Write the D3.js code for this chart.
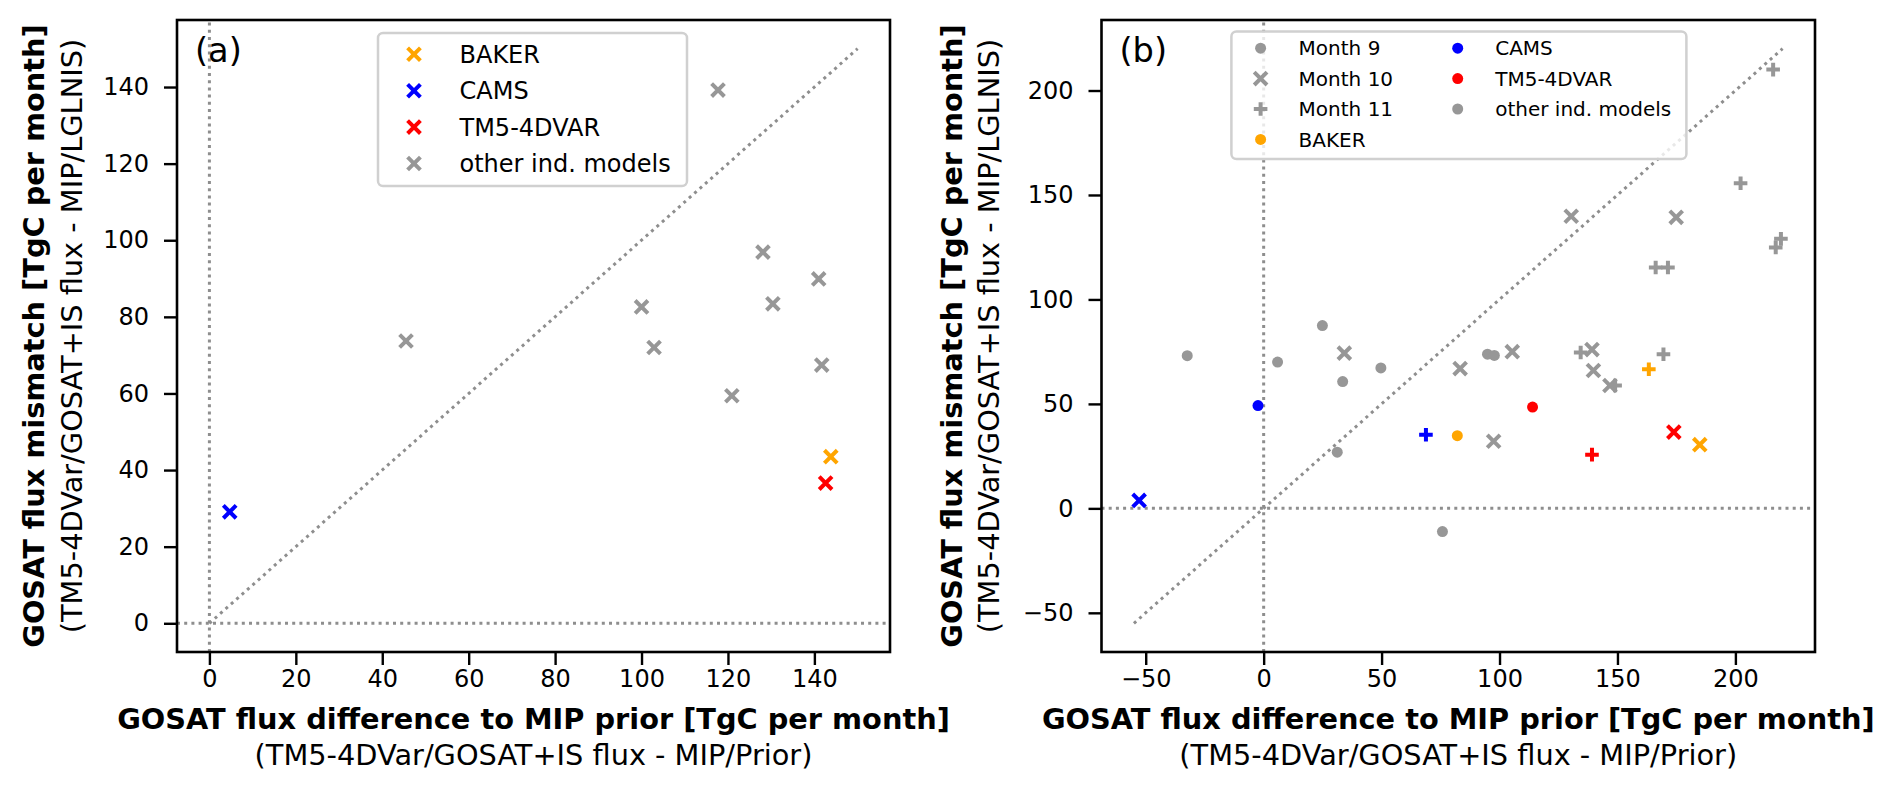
<!DOCTYPE html>
<html>
<head>
<meta charset="utf-8">
<script src="https://cdn.jsdelivr.net/npm/d3@7"></script>
<style>
  body { margin: 0; background: #fff; }
  text { font-family: "DejaVu Sans", sans-serif; fill: #000; }
</style>
</head>
<body>
<div id="chart"></div>
<script>
// ---- panel (a): one value per model ----
const modelsA = ["BAKER", "CAMS", "TM5-4DVAR",
  "other", "other", "other", "other", "other", "other", "other", "other", "other"];
const fluxDiffA = [143.8, 4.7, 142.6, 45.5, 100.0, 102.9, 117.7, 128.1, 130.4, 120.9, 141.0, 141.7];
const mismatchA = [43.5, 29.1, 36.6, 73.7, 82.6, 72.0, 139.2, 96.9, 83.4, 59.4, 89.9, 67.4];

// ---- panel (b): per month ----
const modelsB = ["BAKER", "CAMS", "TM5-4DVAR",
  "other", "other", "other", "other", "other", "other", "other", "other", "other"];
const sepDiff = [82.1, -2.4, 114.0, -32.4, 5.9, 24.9, 33.5, 49.7, 94.9, 97.8, 31.2, 75.8];
const sepMis  = [34.8, 49.2, 48.5, 73.1, 70.0, 87.5, 60.7, 67.2, 73.8, 73.2, 26.9, -11.1];
const octDiff = [184.9, -52.8, 173.9, 34.2, 105.4, 83.3, 130.4, 174.9, 139.2, 139.8, 146.8, 97.5];
const octMis  = [30.5, 3.8, 36.5, 74.3, 75.0, 66.9, 139.8, 139.3, 76.0, 66.0, 58.8, 32.1];
const novDiff = [163.3, 68.8, 139.2, 216.0, 202.2, 219.3, 217.1, 166.2, 171.4, 134.4, 169.5, 149.0];
const novMis  = [66.6, 35.2, 25.7, 210.0, 155.6, 129.0, 124.9, 115.3, 115.3, 74.6, 73.8, 58.8];

// 1:1 reference line ends
const diagA = [0, 150];
const diagB = [-55, 220];

const xTicksA = [0, 20, 40, 60, 80, 100, 120, 140];
const yTicksA = [0, 20, 40, 60, 80, 100, 120, 140];
const xTicksB = [-50, 0, 50, 100, 150, 200];
const yTicksB = [-50, 0, 50, 100, 150, 200];

const legendA = ["BAKER", "CAMS", "TM5-4DVAR", "other ind. models"];
const legendB1 = ["Month 9", "Month 10", "Month 11", "BAKER"];
const legendB2 = ["CAMS", "TM5-4DVAR", "other ind. models"];

const xTitle = "GOSAT flux difference to MIP prior [TgC per month]";
const xSub = "(TM5-4DVar/GOSAT+IS flux - MIP/Prior)";
const yTitle = "GOSAT flux mismatch [TgC per month]";
const ySub = "(TM5-4DVar/GOSAT+IS flux - MIP/LGLNIS)";

const colors = { "BAKER": "#ffa500", "CAMS": "#0000ff", "TM5-4DVAR": "#ff0000", "other": "#979797" };
const lineGrey = "#8e8e8e";

const svg = d3.select("#chart").append("svg")
  .attr("width", 1892).attr("height", 790);

function pad(d) { const m = (d[1] - d[0]) * 0.05; return [d[0] - m, d[1] + m]; }

function marker(g, shape, color, x, y) {
  if (shape === "o") {
    g.append("circle").attr("cx", x).attr("cy", y).attr("r", 5.5).attr("fill", color);
  } else if (shape === "x") {
    const s = 6.4;
    g.append("path")
      .attr("d", `M${x - s},${y - s}L${x + s},${y + s}M${x - s},${y + s}L${x + s},${y - s}`)
      .attr("stroke", color).attr("stroke-width", 4).attr("fill", "none");
  } else {
    const s = 6.8;
    g.append("path")
      .attr("d", `M${x - s},${y}L${x + s},${y}M${x},${y - s}L${x},${y + s}`)
      .attr("stroke", color).attr("stroke-width", 4).attr("fill", "none");
  }
}

function panel(box, diag, xTicks, yTicks, letter, yOff) {
  const g = svg.append("g");
  const dom = pad(diag);
  const x = d3.scaleLinear().domain(dom).range([box.left, box.right]);
  const y = d3.scaleLinear().domain(dom).range([box.bottom, box.top]);

  // dotted reference lines
  const ref = g.append("g");
  ref.append("line").attr("x1", x(dom[0])).attr("x2", x(dom[1])).attr("y1", y(0)).attr("y2", y(0));
  ref.append("line").attr("x1", x(0)).attr("x2", x(0)).attr("y1", y(dom[0])).attr("y2", y(dom[1]));
  ref.append("line").attr("x1", x(diag[0])).attr("y1", y(diag[0])).attr("x2", x(diag[1])).attr("y2", y(diag[1]));
  ref.selectAll("line")
    .attr("stroke", lineGrey).attr("stroke-width", 3).attr("stroke-dasharray", "3,4.2").attr("fill", "none");

  // axes
  const ax = g.append("g").attr("transform", `translate(0,${box.bottom})`)
    .call(d3.axisBottom(x).tickValues(xTicks).tickSize(13).tickPadding(5));
  const ay = g.append("g").attr("transform", `translate(${box.left},0)`)
    .call(d3.axisLeft(y).tickValues(yTicks).tickSize(13).tickPadding(15));
  [ax, ay].forEach(a => {
    a.select(".domain").remove();
    a.selectAll("line").attr("stroke", "#000").attr("stroke-width", 2.4);
    a.selectAll("text").attr("font-size", 24).attr("font-family", "DejaVu Sans");
  });

  g.append("rect").attr("x", box.left).attr("y", box.top)
    .attr("width", box.right - box.left).attr("height", box.bottom - box.top)
    .attr("fill", "none").attr("stroke", "#000").attr("stroke-width", 2.6);

  const cx = (box.left + box.right) / 2, cy = (box.top + box.bottom) / 2;
  g.append("text").attr("x", cx).attr("y", 729).attr("text-anchor", "middle")
    .attr("font-size", 28.8).attr("font-weight", "bold").text(xTitle);
  g.append("text").attr("x", cx).attr("y", 765).attr("text-anchor", "middle")
    .attr("font-size", 28.8).text(xSub);
  g.append("text").attr("transform", `translate(${box.left - yOff[0]},${cy}) rotate(-90)`)
    .attr("text-anchor", "middle").attr("dy", "0.35em")
    .attr("font-size", 28.8).attr("font-weight", "bold").text(yTitle);
  g.append("text").attr("transform", `translate(${box.left - yOff[1]},${cy}) rotate(-90)`)
    .attr("text-anchor", "middle").attr("dy", "0.35em")
    .attr("font-size", 28.8).text(ySub);
  g.append("text").attr("x", box.left + 18).attr("y", box.top + 42)
    .attr("font-size", 33.6).text(letter);

  return { g, x, y };
}

function legendBox(g, x0, y0, w, h) {
  g.append("rect").attr("x", x0).attr("y", y0).attr("width", w).attr("height", h)
    .attr("rx", 5).attr("fill", "#fff").attr("fill-opacity", 0.8)
    .attr("stroke", "#d0d0d0").attr("stroke-width", 2.5);
}

// ---- panel (a) ----
const pa = panel({ left: 177, right: 890, top: 20, bottom: 652 }, diagA, xTicksA, yTicksA, "(a)", [143, 105]);
const ptsA = pa.g.append("g");
modelsA.forEach((m, i) => {
  if (m === "other") marker(ptsA, "x", colors[m], pa.x(fluxDiffA[i]), pa.y(mismatchA[i]));
});
modelsA.forEach((m, i) => {
  if (m !== "other") marker(ptsA, "x", colors[m], pa.x(fluxDiffA[i]), pa.y(mismatchA[i]));
});

const legA = pa.g.append("g");
legendBox(legA, 378, 33, 309, 153);
legendA.forEach((t, i) => {
  const yy = 54.3 + i * 36.4;
  const key = t === "other ind. models" ? "other" : t;
  marker(legA, "x", colors[key], 414, yy);
  legA.append("text").attr("x", 459.5).attr("y", yy).attr("dy", "0.36em")
    .attr("font-size", 24).text(t);
});

// ---- panel (b) ----
const pb = panel({ left: 1101.5, right: 1815, top: 20, bottom: 652 }, diagB, xTicksB, yTicksB, "(b)", [150, 113]);
const ptsB = pb.g.append("g");
const months = [
  { shape: "o", dx: sepDiff, my: sepMis },
  { shape: "x", dx: octDiff, my: octMis },
  { shape: "+", dx: novDiff, my: novMis }
];
months.forEach(mo => {
  modelsB.forEach((m, i) => {
    marker(ptsB, mo.shape, colors[m], pb.x(mo.dx[i]), pb.y(mo.my[i]));
  });
});

const legB = pb.g.append("g");
legendBox(legB, 1231.4, 31.4, 455, 127.6);
const shapesB1 = ["o", "x", "+", "o"];
const colB1 = ["other", "other", "other", "BAKER"];
legendB1.forEach((t, i) => {
  const yy = 48.2 + i * 30.4;
  marker(legB, shapesB1[i], colors[colB1[i]], 1260.6, yy);
  legB.append("text").attr("x", 1298.6).attr("y", yy).attr("dy", "0.36em")
    .attr("font-size", 20).text(t);
});
const colB2 = ["CAMS", "TM5-4DVAR", "other"];
legendB2.forEach((t, i) => {
  const yy = 48.2 + i * 30.4;
  marker(legB, "o", colors[colB2[i]], 1457.7, yy);
  legB.append("text").attr("x", 1495.2).attr("y", yy).attr("dy", "0.36em")
    .attr("font-size", 20).text(t);
});
</script>
</body>
</html>
